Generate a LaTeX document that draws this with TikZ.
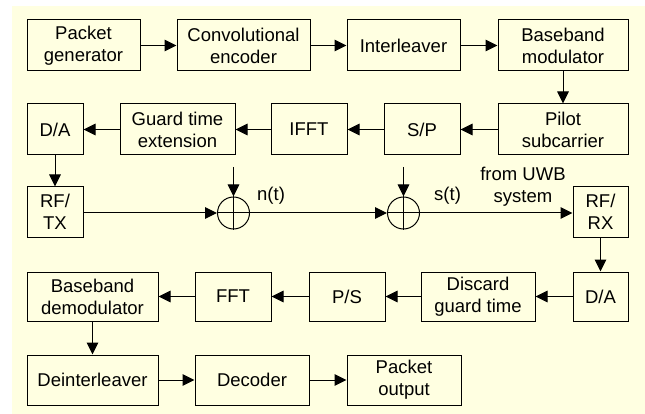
\documentclass[tikz,border=0pt]{standalone}
\usepackage{fontspec}
\setmainfont{Liberation Sans}
\usetikzlibrary{arrows.meta}
\definecolor{bgyellow}{HTML}{FFFFE1}
\tikzset{
  blk/.style={draw=black, line width=1pt, rectangle, inner sep=0pt, align=center,
    font=\fontsize{18.5}{22}\selectfont},
  adder/.style={draw=black, line width=1pt, circle, inner sep=0pt, minimum size=32pt},
  lbl/.style={inner sep=0pt, align=center, font=\fontsize{18.5}{22}\selectfont},
  arr/.style={line width=1pt, -{Triangle[length=12pt,width=11.5pt]}},
  ln/.style={line width=1pt}
}
\newcommand{\bx}[7]{% name, x1, y1, x2, y2, text
  \node[blk, minimum width={#4-#2}, minimum height={#5-#3}] (#1) at ({(#2+#4)/2},{(#3+#5)/2}) {#6};}
\begin{document}
\begin{tikzpicture}[x=1pt,y=-1pt]
\useasboundingbox (0,0) rectangle (645,414);
\fill[bgyellow] (12,6) rectangle (645,414);
% row 1
\bx{pg}{27}{20}{140}{71}{Packet\\generator}{}
\bx{ce}{177}{20}{310}{71}{Convolutional\\encoder}{}
\bx{il}{347}{20}{460}{71}{Interleaver}{}
\bx{bm}{498}{20}{628}{71}{Baseband\\modulator}{}
% row 2
\bx{da1}{27}{104}{83}{155}{D/A}{}
\bx{gte}{120}{104}{235}{155}{Guard time\\extension}{}
\bx{ifft}{271}{104}{347}{155}{IFFT}{}
\bx{sp}{384}{104}{460}{155}{S/P}{}
\bx{pil}{498}{104}{628}{155}{Pilot\\subcarrier}{}
% row 3
\bx{rftx}{27}{187}{83}{237}{RF/\\TX}{}
\bx{rfrx}{573}{187}{628}{237}{RF/\\RX}{}
\node[adder] (add1) at (233.5,213) {};
\node[adder] (add2) at (403.5,213) {};
\draw[ln] (add1.north) -- (add1.south) (add1.west) -- (add1.east);
\draw[ln] (add2.north) -- (add2.south) (add2.west) -- (add2.east);
\coordinate (n1) at (233.5,167);
\coordinate (n2) at (403.5,167);
\node[lbl, anchor=west] (nt) at (257,196) {n(t)};
\node[lbl, anchor=west] (st) at (434,196) {s(t)};
\node[lbl] (uwb) at (523,187) {from UWB\\system};
% row 4
\bx{bbd}{27}{272}{158}{321}{Baseband\\demodulator}{}
\bx{fft}{195}{272}{271}{321}{FFT}{}
\bx{p2s}{309}{272}{385}{321}{P/S}{}
\bx{dgt}{421}{272}{535}{321}{Discard\\guard time}{}
\bx{da2}{573}{272}{628}{321}{D/A}{}
% row 5
\bx{dil}{27}{355}{158}{405}{Deinterleaver}{}
\bx{dec}{195}{355}{309}{405}{Decoder}{}
\bx{po}{347}{355}{461}{405}{Packet\\output}{}
% connectors
\draw[arr] (pg) -- (ce);
\draw[arr] (ce) -- (il);
\draw[arr] (il) -- (bm);
\draw[arr] (bm) -- (pil);
\draw[arr] (pil) -- (sp);
\draw[arr] (sp) -- (ifft);
\draw[arr] (ifft) -- (gte);
\draw[arr] (gte) -- (da1);
\draw[arr] (da1) -- (rftx);
\draw[arr] (rftx.east |- add1.west) -- (add1.west);
\draw[arr] (n1) -- (add1.north);
\draw[arr] (add1.east) -- (add2.west);
\draw[arr] (n2) -- (add2.north);
\draw[arr] (add2.east) -- (rfrx.west |- add2.east);
\draw[arr] (rfrx) -- (da2);
\draw[arr] (da2) -- (dgt);
\draw[arr] (dgt) -- (p2s);
\draw[arr] (p2s) -- (fft);
\draw[arr] (fft) -- (bbd);
\draw[arr] (bbd) -- (dil);
\draw[arr] (dil) -- (dec);
\draw[arr] (dec) -- (po);
\end{tikzpicture}
\end{document}
